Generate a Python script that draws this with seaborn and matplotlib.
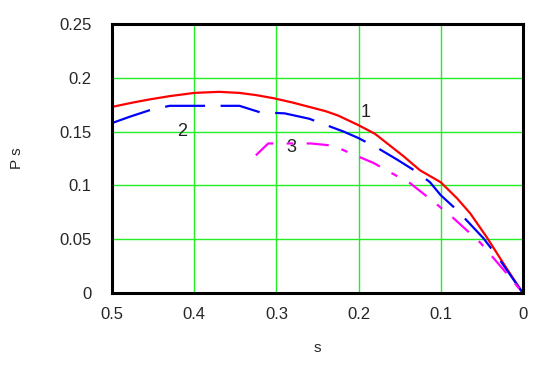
import numpy as np
import pandas as pd
import matplotlib
matplotlib.use("Agg")
import matplotlib.pyplot as plt
import seaborn as sns

# curve 1 (red, solid)
s1 = [0.5, 0.475, 0.454, 0.43, 0.4, 0.37, 0.345, 0.325, 0.303, 0.28, 0.26, 0.24, 0.225, 0.2, 0.18, 0.165, 0.145, 0.125, 0.1, 0.08, 0.064, 0.044, 0.024, 0.0]
p1 = [0.173, 0.177, 0.180, 0.183, 0.186, 0.187, 0.186, 0.184, 0.181, 0.177, 0.173, 0.169, 0.165, 0.156, 0.148, 0.139, 0.127, 0.114, 0.103, 0.088, 0.074, 0.052, 0.028, 0.0]

# curve 2 (blue, dashed)
s2 = [0.5, 0.478, 0.454, 0.43, 0.375, 0.345, 0.32, 0.29, 0.26, 0.218, 0.2, 0.175, 0.153, 0.13, 0.113, 0.1, 0.08, 0.048, 0.03, 0.0]
p2 = [0.158, 0.164, 0.170, 0.174, 0.174, 0.174, 0.168, 0.167, 0.162, 0.150, 0.144, 0.134, 0.124, 0.113, 0.103, 0.091, 0.077, 0.051, 0.033, 0.0]

# curve 3 (magenta, dashed)
s3 = [0.325, 0.31, 0.258, 0.231, 0.21, 0.182, 0.161, 0.137, 0.104, 0.085, 0.052, 0.016, 0.0]
p3 = [0.128, 0.139, 0.139, 0.137, 0.130, 0.121, 0.112, 0.102, 0.082, 0.070, 0.047, 0.015, 0.0]

curve_labels = ["1", "2", "3"]
label_pos = [(0.191, 0.168), (0.415, 0.150), (0.282, 0.135)]

x_ticks = [0.5, 0.4, 0.3, 0.2, 0.1, 0]
y_ticks = [0, 0.05, 0.1, 0.15, 0.2, 0.25]

sns.set_style("white")
plt.rcParams['font.family'] = ['Liberation Sans', 'DejaVu Sans']

fig = plt.figure(figsize=(5.55, 3.70), dpi=100)
ax = fig.add_axes([0.202, 0.208, 0.740, 0.727])

sns.lineplot(x=s1, y=p1, ax=ax, color="#ff0000", lw=1.6, sort=False)
sns.lineplot(x=s2, y=p2, ax=ax, color="#0000ff", lw=1.6, sort=False)
ax.lines[-1].set_dashes((18, 7))
sns.lineplot(x=s3, y=p3, ax=ax, color="#ff00ff", lw=1.6, sort=False)
ax.lines[-1].set_dashes((10, 6, 3, 6))

for lab, (xx, yy) in zip(curve_labels, label_pos):
    ax.text(xx, yy, lab, fontsize=13, ha="center", va="center", color="#222222")

ax.set_xlim(0.5, 0)
ax.set_ylim(0, 0.25)
ax.set_xticks(x_ticks)
ax.set_yticks(y_ticks)
ax.set_xticklabels([f"{v:g}" for v in x_ticks])
ax.set_yticklabels([f"{v:g}" for v in y_ticks])
ax.tick_params(axis="x", length=0, labelsize=12, pad=10)
ax.tick_params(axis="y", length=0, labelsize=12, pad=15)
ax.grid(True, color="#22ee22", lw=1.0)
for sp in ax.spines.values():
    sp.set_visible(True)
    sp.set_color("black")
    sp.set_linewidth(2.2)

ax.set_xlabel("s", fontsize=11, labelpad=14)
ax.set_ylabel("P s", fontsize=11, labelpad=25)

fig.savefig("out.png", dpi=100)
